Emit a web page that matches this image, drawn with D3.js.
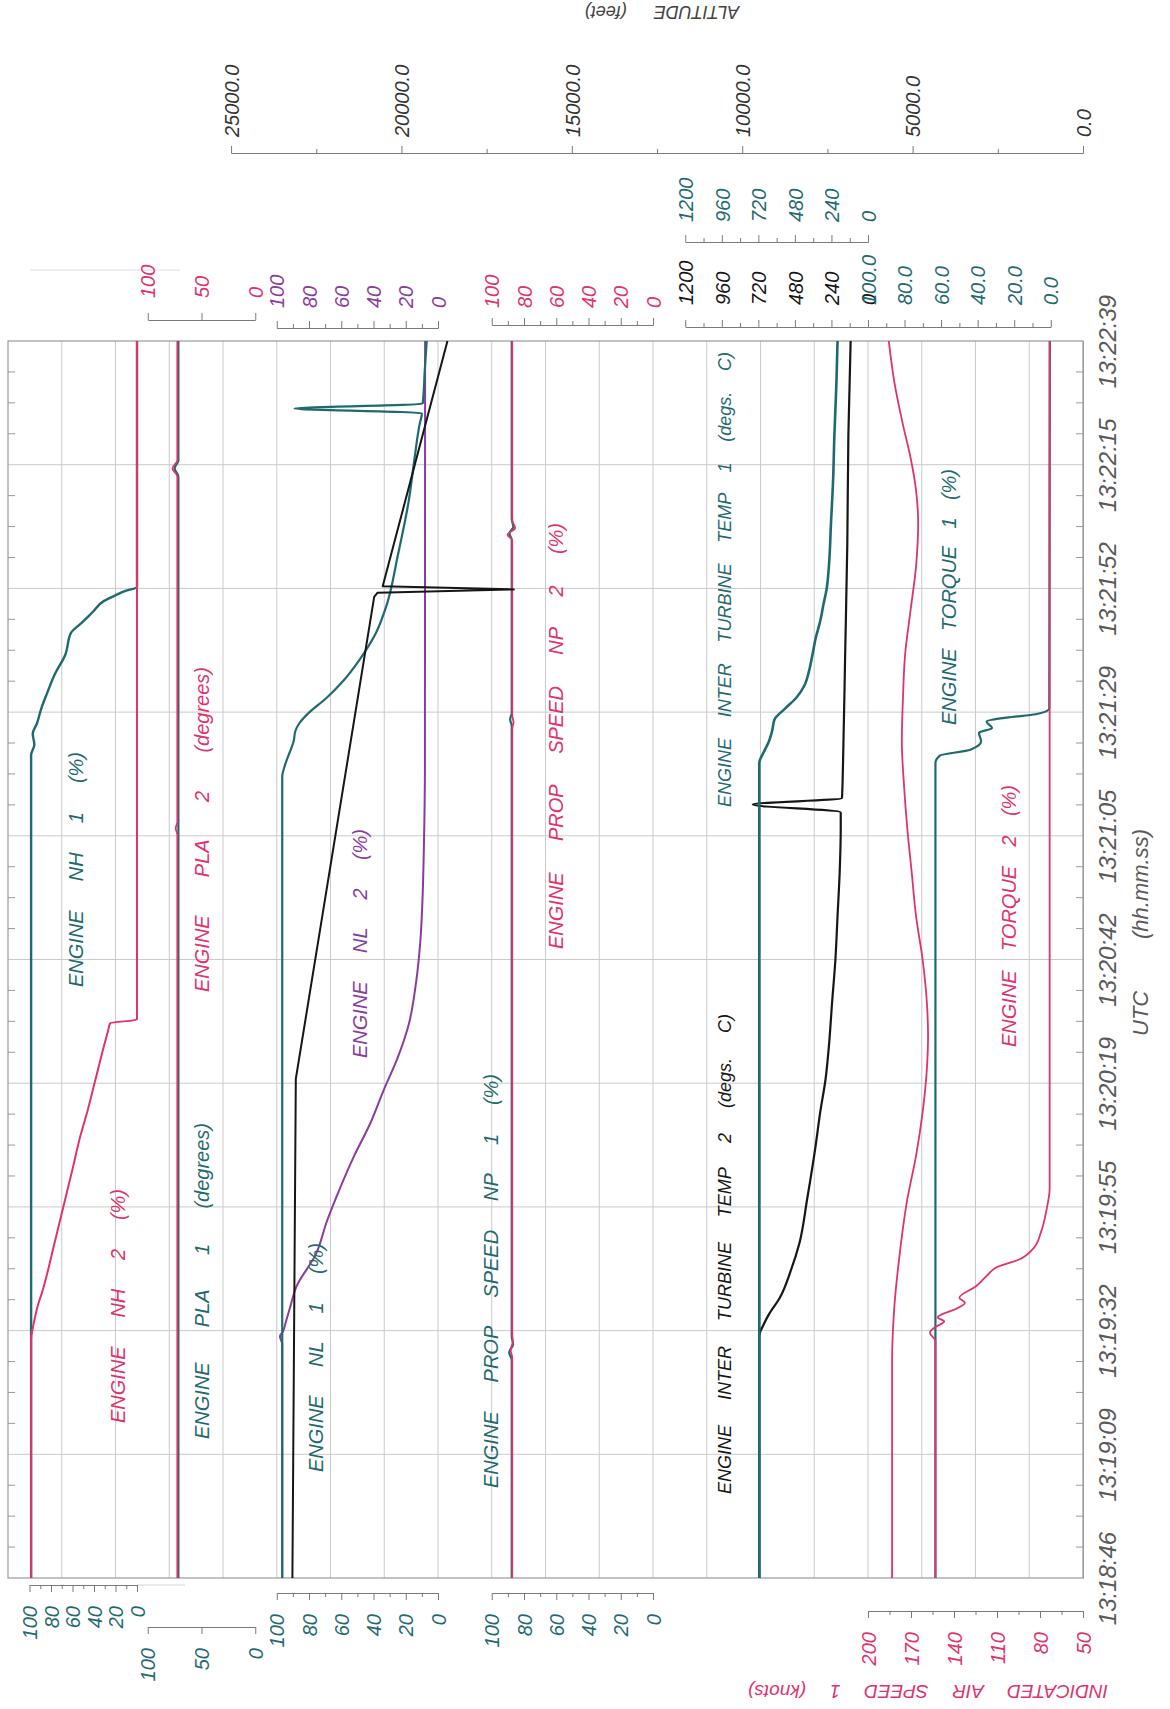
<!DOCTYPE html>
<html>
<head>
<meta charset="utf-8">
<script src="https://cdn.jsdelivr.net/npm/d3@7"></script>
<style>
  body { margin: 0; background: #fff; }
  svg { display: block; font-family: "Liberation Sans", Arial, sans-serif; font-style: italic; }
</style>
</head>
<body>
<svg id="chart" width="1170" height="1709"></svg>
<script>
// UTC tick labels, one per grid row (bottom to top)
const timeLabels = ["13:18:46", "13:19:09", "13:19:32", "13:19:55", "13:20:19", "13:20:42",
  "13:21:05", "13:21:29", "13:21:52", "13:22:15", "13:22:39"];
const spanSec = 233; // 13:18:46 -> 13:22:39

// every series: [seconds after 13:18:46, value]
const nh1 = [[0,98.5],[155,98.5],[157,95.5],[159,97],[161,93],[163.8,89],[167,83],[170,77],[174,66.5],
  [178,61.5],[180,51],[182,41],[184,31],[185,21],[186,10],[186.6,0],[233,0]];
const nh2 = [[0,98.5],[45,98.5],[47,97],[49,95],[51.5,92],[54,88],[57,84],[62,78],[67,72],[72,66],
  [77,60],[83,53],[88,46],[92,41],[96,36],[100,31],[103,27],[104.5,25],[105.2,0],[233,0]];
const pla1 = [[0,71.5],[207.5,71.5],[209,75],[210.5,71.5],[233,71.5]];
const pla2 = [[0,72.5],[140,72.5],[141.2,74],[142.4,72.5],[207.5,72.5],[209,77],[210.5,72.5],[233,72.5]];
const nl1 = [[0,96.6],[151,96.6],[153,95],[155.5,92],[157.6,89.5],[159.5,88.5],[161,86],[163,80],
  [165.8,69],[168.9,59],[173,48.6],[178,38.5],[183.3,31.8],[192.5,25],[202.8,18.2],[211,14.5],
  [217.2,11.5],[219.4,10],[220.3,89],[221.2,9.5],[227.5,8.2],[233,7]];
const nl2 = [[0,96.6],[44,96.6],[45.5,98],[46.5,96],[48,94.6],[50.8,91.9],[54.9,87.8],[61,75.7],
  [67.2,68.9],[73.4,60.8],[79.5,52],[85.7,41.9],[91.8,33.8],[98,25],[104.2,18.2],[112.4,13.5],
  [120.6,10.8],[128.8,9.5],[137,8.8],[153.5,8.1],[233,8]];
const altitude = [[0,23200],[94,23100],[184.8,20800],[185.6,20700],[186.2,16700],[186.8,20550],[233,18650]];
const np1 = [[0,87.6],[41,87.6],[42.5,89.2],[44,86.8],[45.5,87.6],[160.5,87.6],[161.7,88.6],[163,87.6],
  [195.5,87.6],[196.8,89],[198,86.6],[199.5,87.6],[233,87.6]];
const np2 = [[0,87.3],[41.5,87.3],[43,88.3],[44.5,86.9],[46,87.3],[160,87.3],[161.2,86.5],[162.5,87.3],
  [195.5,87.3],[196.5,90.2],[197.8,85.5],[199.2,87.3],[233,87.3]];
const itt1 = [[0,714],[153.5,714],[155.5,686],[157.6,650],[159.6,629],[161.7,614],[163.8,543],[165.8,471],
  [168.3,414],[171,386],[174,364],[177.1,343],[180.2,314],[183.3,293],[186.4,271],[190.5,257],
  [198.7,243],[206.9,229],[215.1,221],[225.4,207],[233,200]];
const itt2 = [[0,714],[45.6,714],[47.7,686],[49.7,650],[52.8,579],[57.9,507],[63.1,450],[71.3,400],
  [81.6,343],[87.7,314],[93.9,279],[100.1,257],[108.3,236],[116.5,214],[124.7,200],[132.9,186],
  [141.2,179],[144.2,179],[145.7,757],[146.9,171],[153.5,164],[174,150],[194.6,136],[215.1,129],[233,114]];
const ias = [[0,183.2],[40.5,183.2],[50.8,181.7],[61,177.9],[71.3,172.6],[79.5,166.5],[87.7,161.9],
  [96,158.9],[102.1,158.1],[108.3,158.9],[116.5,161.9],[124.7,166.5],[132.9,169.5],[141.2,172.6],
  [149.4,174.9],[157.6,176.4],[165.8,175.6],[174,174.1],[182.3,170.3],[190.5,166.5],[198.7,165],
  [204.9,166.5],[211,170.3],[217.2,175.6],[225.4,181.7],[233,185.5]];
const tq1 = [[0,63.1],[153.5,63.1],[154.9,60.7],[156,44],[157.6,38.1],[159.2,39.3],[160.1,32.1],
  [161.3,35.1],[162.1,23.2],[162.7,8.3],[163.8,0.8],[233,0.5]];
const tq2 = [[0,63.1],[44.6,63.1],[46.2,66.1],[47.3,63.1],[48.3,58.3],[49.1,61.9],[50.8,51.2],[51.8,47],
  [52.8,50],[54.9,41.1],[56.9,35.1],[58.6,29.2],[60,17.3],[62.1,9.5],[65.1,5.4],[69.2,2.4],[73.4,0.6],[233,0.6]];

const TEAL = "#1f6a6e", PINK = "#e0336e", PURPLE = "#8a3c9c", BLACK = "#161616";
const GRID = "#cacaca", FRAME = "#9a9a9a", TICK = "#7a7a7a";

const svg = d3.select("#chart");

// 20 grid columns across the frame, time runs bottom -> top
const gx = d3.scaleLinear().domain([0, 20]).range([8, 1083]);
const y = d3.scaleLinear().domain([0, spanSec]).range([1578, 341]);
const tickSecs = timeLabels.map((_, i) => i * spanSec / 10);

const nhX = d3.scaleLinear().domain([100, 0]).range([gx(0.4), gx(2.4)]);
const plaX = d3.scaleLinear().domain([100, 0]).range([gx(2.6), gx(4.6)]);
const nlX = d3.scaleLinear().domain([100, 0]).range([gx(5), gx(8)]);
const npX = d3.scaleLinear().domain([100, 0]).range([gx(9), gx(12)]);
const ittX = d3.scaleLinear().domain([1200, 0]).range([gx(12.6), gx(16)]);
const tqX = d3.scaleLinear().domain([100, 0]).range([gx(16), gx(19.4)]);
const iasX = d3.scaleLinear().domain([200, 50]).range([gx(16), gx(20)]);
const altX = d3.scaleLinear().domain([0, 25000]).range([gx(20), gx(20 - 5 * 3.17)]);

// grid
const grid = svg.append("g");
grid.selectAll("line.v").data(d3.range(1, 20)).join("line")
  .attr("x1", d => gx(d)).attr("x2", d => gx(d))
  .attr("y1", y(0)).attr("y2", y(spanSec))
  .attr("stroke", GRID).attr("stroke-width", 1);
grid.selectAll("line.h").data(tickSecs.slice(1, -1)).join("line")
  .attr("x1", gx(0)).attr("x2", gx(20))
  .attr("y1", d => y(d)).attr("y2", d => y(d))
  .attr("stroke", GRID).attr("stroke-width", 1);
const minorT = d3.range(1, 40).filter(i => i % 4).map(i => i * spanSec / 40);
grid.selectAll("line.ml").data(minorT).join("line")
  .attr("x1", gx(0)).attr("x2", gx(0) + 7).attr("y1", d => y(d)).attr("y2", d => y(d))
  .attr("stroke", FRAME);
grid.selectAll("line.mr").data(minorT).join("line")
  .attr("x1", gx(20) - 7).attr("x2", gx(20)).attr("y1", d => y(d)).attr("y2", d => y(d))
  .attr("stroke", FRAME);
grid.append("rect")
  .attr("x", gx(0)).attr("y", y(spanSec))
  .attr("width", gx(20) - gx(0)).attr("height", y(0) - y(spanSec))
  .attr("fill", "none").attr("stroke", FRAME).attr("stroke-width", 1.2);

// faint ghost lines of the scan
svg.append("line").attr("x1", 30).attr("x2", 180).attr("y1", 270).attr("y2", 270).attr("stroke", "#dcdcdc");
svg.append("line").attr("x1", gx(2.4)).attr("x2", 185).attr("y1", 1585).attr("y2", 1585).attr("stroke", "#d6d6d6");

// time axis (right)
const fsT = 24;
const tAx = svg.append("g").attr("transform", `translate(${gx(20)},0)`)
  .call(d3.axisRight(y).tickValues(tickSecs).tickFormat((d, i) => timeLabels[i]).tickSize(0));
tAx.attr("font-family", null).attr("font-size", null);
tAx.select(".domain").attr("stroke", FRAME);
tAx.selectAll("text")
  .attr("x", null).attr("dy", null)
  .attr("transform", `translate(${24 + fsT * 0.36},0) rotate(-90)`)
  .attr("text-anchor", "middle").attr("font-size", fsT).attr("fill", "#5a5a5a");

// small value axes
function valueAxis(scale, o) {
  const fs = 20;
  const g = svg.append("g").attr("transform", `translate(0,${o.y})`);
  const make = o.side === "top" ? d3.axisTop : d3.axisBottom;
  if (o.minor) {
    g.append("g").call(make(scale).tickValues(o.minor).tickSize(4).tickSizeOuter(0).tickFormat(""));
  }
  const m = g.append("g").call(make(scale).tickValues(o.major).tickSize(7).tickSizeOuter(0).tickFormat(o.fmt || d3.format("d")));
  g.selectAll("g").attr("font-family", null).attr("font-size", null);
  g.selectAll("path, line").attr("stroke", TICK);
  const gap = o.gap;
  m.selectAll("text")
    .attr("x", null).attr("y", null).attr("dy", null)
    .attr("fill", o.color).attr("font-size", fs)
    .attr("text-anchor", o.side === "top" ? "start" : "end")
    .attr("transform", `translate(${fs * 0.36},${o.side === "top" ? -gap : gap}) rotate(-90)`);
}
const pct = d3.range(0, 101, 20), pctMinor = d3.range(10, 100, 20);

// bottom axes
valueAxis(nhX, { y: 1585, side: "bottom", major: pct, minor: pctMinor, color: TEAL, gap: 21 });
valueAxis(plaX, { y: 1627, side: "bottom", major: [0, 50, 100], color: TEAL, gap: 21 });
valueAxis(nlX, { y: 1593, side: "bottom", major: pct, minor: pctMinor, color: TEAL, gap: 21 });
valueAxis(npX, { y: 1593, side: "bottom", major: pct, minor: pctMinor, color: TEAL, gap: 21 });
valueAxis(iasX, { y: 1611, side: "bottom", major: d3.range(50, 201, 30), minor: d3.range(65, 200, 30), color: PINK, gap: 21 });
// top axes
valueAxis(plaX, { y: 320, side: "top", major: [0, 50, 100], color: PINK, gap: 22 });
valueAxis(nlX, { y: 328, side: "top", major: pct, minor: pctMinor, color: PURPLE, gap: 20 });
valueAxis(npX, { y: 325, side: "top", major: pct, minor: pctMinor, color: PINK, gap: 17 });
valueAxis(ittX, { y: 327, side: "top", major: d3.range(0, 1201, 240), minor: d3.range(120, 1200, 240), color: BLACK, gap: 22 });
valueAxis(tqX, { y: 327, side: "top", major: pct, minor: pctMinor, color: TEAL, gap: 22, fmt: d3.format(".1f") });
valueAxis(ittX, { y: 242, side: "top", major: d3.range(0, 1201, 240), minor: d3.range(120, 1200, 240), color: TEAL, gap: 20 });
valueAxis(altX, { y: 153, side: "top", major: d3.range(0, 25001, 5000), minor: d3.range(2500, 25000, 5000), color: "#333", gap: 16, fmt: d3.format(".1f") });

// data lines
function series(data, xs, color, w, curve) {
  svg.append("path").datum(data)
    .attr("fill", "none").attr("stroke", color).attr("stroke-width", w)
    .attr("stroke-linejoin", "round")
    .attr("d", d3.line().curve(curve || d3.curveMonotoneY).x(d => xs(d[1])).y(d => y(d[0])));
}
series(nh1, nhX, TEAL, 2.4);
series(nh2, nhX, PINK, 2);
series(pla1, plaX, TEAL, 2.2);
series(pla2, plaX, PINK, 1.8);
series(nl2, nlX, PURPLE, 2);
series(nl1, nlX, TEAL, 2.2);
series(np1, npX, TEAL, 2.2);
series(np2, npX, PINK, 1.8);
series(itt2, ittX, BLACK, 2.2);
series(itt1, ittX, TEAL, 2.6);
series(ias, iasX, PINK, 1.8);
series(tq1, tqX, TEAL, 2.2);
series(tq2, tqX, PINK, 1.8);
series(altitude, altX, BLACK, 2, d3.curveLinear);

// rotated text helper: cx = centre across, yb = start point
function vText(str, cx, yb, color, fs, len) {
  const t = svg.append("text")
    .attr("transform", `translate(${cx + fs * 0.36},${yb}) rotate(-90)`)
    .attr("fill", color).attr("font-size", fs).attr("text-anchor", "start").text(str);
  const gaps = str.split(" ").length - 1;
  if (len && gaps) {
    const w = t.node().getComputedTextLength();
    t.attr("word-spacing", Math.max(0, (len - w) / gaps));
  }
  return t;
}
vText("ENGINE NH 2 (%)", 118, 1423, PINK, 20, 234);
vText("ENGINE NH 1 (%)", 76, 987, TEAL, 20, 235);
vText("ENGINE PLA 1 (degrees)", 202, 1439, TEAL, 20, 316);
vText("ENGINE PLA 2 (degrees)", 202, 992, PINK, 20, 325);
vText("ENGINE NL 1 (%)", 316, 1472, TEAL, 20, 229);
vText("ENGINE NL 2 (%)", 360, 1058, PURPLE, 20, 229);
vText("ENGINE PROP SPEED NP 1 (%)", 491, 1488, TEAL, 20, 414);
vText("ENGINE PROP SPEED NP 2 (%)", 556, 949, PINK, 20, 426);
vText("ENGINE INTER TURBINE TEMP 2 (degs. C)", 725, 1494, BLACK, 18, 480);
vText("ENGINE INTER TURBINE TEMP 1 (degs. C)", 725, 807, TEAL, 18, 455);
vText("ENGINE TORQUE 1 (%)", 949, 725, TEAL, 20, 256);
vText("ENGINE TORQUE 2 (%)", 1009, 1047, PINK, 20, 262);
vText("UTC (hh.mm.ss)", 1140, 1036, "#5a5a5a", 22, 207);

// upside-down axis titles
svg.append("text")
  .attr("transform", "translate(662,6) rotate(180)")
  .attr("text-anchor", "middle").attr("font-size", 18).attr("fill", "#444")
  .attr("word-spacing", 22).text("ALTITUDE (feet)");
const iasTitle = svg.append("text")
  .attr("transform", "translate(1108,1685) rotate(180)")
  .attr("text-anchor", "start").attr("font-size", 19).attr("fill", PINK)
  .text("INDICATED AIR SPEED 1 (knots)");
{
  const w = iasTitle.node().getComputedTextLength();
  iasTitle.attr("word-spacing", Math.max(0, (360 - w) / 4));
}
</script>
</body>
</html>
